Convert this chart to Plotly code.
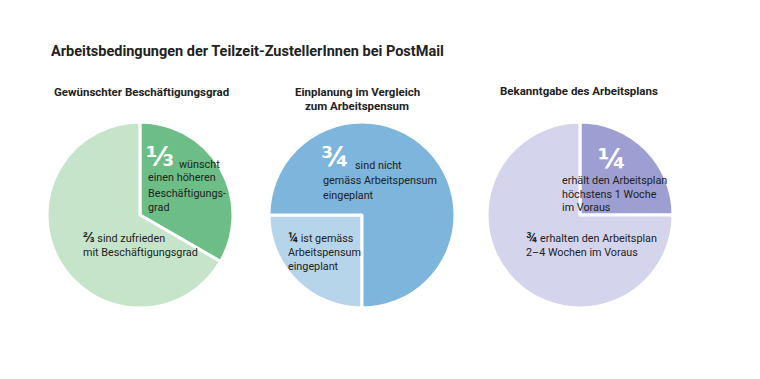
import plotly.graph_objects as go

W, H = 760, 379
FONT = "Roboto, sans-serif"
FRAC = "DejaVu Sans, sans-serif"

# data
pie1_labels = ["wünscht einen höheren Beschäftigungsgrad", "sind zufrieden mit Beschäftigungsgrad"]
pie1_values = [1/3, 2/3]
pie2_labels = ["ist gemäss Arbeitspensum eingeplant", "sind nicht gemäss Arbeitspensum eingeplant"]
pie2_values = [1/4, 3/4]
pie3_labels = ["erhält den Arbeitsplan höchstens 1 Woche im Voraus", "erhalten den Arbeitsplan 2–4 Wochen im Voraus"]
pie3_values = [1/4, 3/4]

pie1_colors = ["#6cbe86", "#c6e4c9"]
pie2_colors = ["#b6d5eb", "#7db5dc"]
pie3_colors = ["#9d9fd3", "#d4d4ec"]

def dom(cx, cy, r):
    return dict(x=[(cx - r) / W, (cx + r) / W], y=[1 - (cy + r) / H, 1 - (cy - r) / H])

fig = go.Figure()
common = dict(sort=False, direction="clockwise", textinfo="none", hoverinfo="label+percent",
              showlegend=False)
fig.add_trace(go.Pie(labels=pie1_labels, values=pie1_values, rotation=0,
                     marker=dict(colors=pie1_colors, line=dict(color="white", width=3)),
                     domain=dom(140, 215, 93), **common))
fig.add_trace(go.Pie(labels=pie2_labels, values=pie2_values, rotation=180,
                     marker=dict(colors=pie2_colors, line=dict(color="white", width=3)),
                     domain=dom(362, 215, 93), **common))
fig.add_trace(go.Pie(labels=pie3_labels, values=pie3_values, rotation=0,
                     marker=dict(colors=pie3_colors, line=dict(color="white", width=3)),
                     domain=dom(580, 215, 93), **common))

anns = []
def txt(x, y, text, size=10.5, color="#222", bold=False, xanchor="left", family=FONT):
    if bold:
        text = "<b>" + text + "</b>"
    anns.append(dict(x=x / W, y=1 - y / H, xref="paper", yref="paper", text=text,
                     showarrow=False, xanchor=xanchor, yanchor="middle", align="left",
                     font=dict(family=family, size=size, color=color)))

BODY = 10.8
def fr(s):
    return "<span style='font-size:14px'><b>" + s + "</b></span>"

txt(49, 51, "Arbeitsbedingungen der Teilzeit-ZustellerInnen bei PostMail", size=14.5, bold=True)
txt(141, 92, "Gewünschter Beschäftigungsgrad", size=11.5, bold=True, xanchor="center")
txt(357, 92, "Einplanung im Vergleich", size=11.5, bold=True, xanchor="center")
txt(357, 106, "zum Arbeitspensum", size=11.5, bold=True, xanchor="center")
txt(579, 91, "Bekanntgabe des Arbeitsplans", size=11.5, bold=True, xanchor="center")

# pie 1
txt(144, 157, "⅓", size=27, color="white", bold=True, family=FRAC)
txt(177, 164, "wünscht", size=BODY)
txt(146, 178, "einen höheren", size=BODY)
txt(146, 193, "Beschäftigungs-", size=BODY)
txt(146, 207, "grad", size=BODY)
txt(81, 237, fr("⅔") + " sind zufrieden", size=BODY)
txt(81, 252, "mit Beschäftigungsgrad", size=BODY)

# pie 2
txt(319, 157, "¾", size=27, color="white", bold=True, family=FRAC)
txt(353, 166, "sind nicht", size=BODY)
txt(321, 180, "gemäss Arbeitspensum", size=BODY)
txt(321, 195, "eingeplant", size=BODY)
txt(286, 237, fr("¼") + " ist gemäss", size=BODY)
txt(286, 252, "Arbeitspensum", size=BODY)
txt(286, 266, "eingeplant", size=BODY)

# pie 3
txt(612, 158, "¼", size=27, color="white", bold=True, xanchor="center", family=FRAC)
txt(560, 180, "erhält den Arbeitsplan", size=BODY)
txt(560, 194, "höchstens 1 Woche", size=BODY)
txt(560, 207, "im Voraus", size=BODY)
txt(524, 237, fr("¾") + " erhalten den Arbeitsplan", size=BODY)
txt(524, 252, "2–4 Wochen im Voraus", size=BODY)

fig.update_layout(width=W, height=H, margin=dict(l=0, r=0, t=0, b=0),
                  paper_bgcolor="white", plot_bgcolor="white", annotations=anns)
fig.write_html("out.html")
